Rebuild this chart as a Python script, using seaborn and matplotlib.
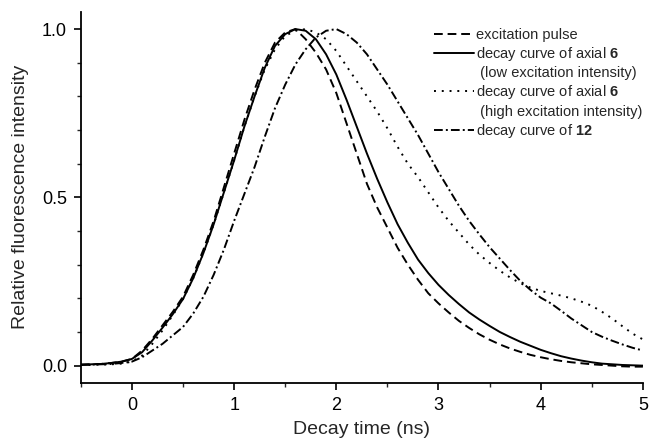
import numpy as np
import pandas as pd
import seaborn as sns
import matplotlib.pyplot as plt
from matplotlib.lines import Line2D
from matplotlib.ticker import MultipleLocator

# decay time axis (ns)
time_ns = [-0.5, -0.4, -0.3, -0.2, -0.1, 0.0, 0.1, 0.2, 0.3, 0.4, 0.5, 0.6, 0.7, 0.8, 0.9,
           1.0, 1.1, 1.2, 1.3, 1.4, 1.5, 1.6, 1.7, 1.8, 1.9, 2.0, 2.1, 2.2, 2.3, 2.4,
           2.5, 2.6, 2.7, 2.8, 2.9, 3.0, 3.1, 3.2, 3.3, 3.4, 3.5, 3.6, 3.7, 3.8, 3.9,
           4.0, 4.1, 4.2, 4.3, 4.4, 4.5, 4.6, 4.7, 4.8, 4.9, 5.0]

excitation = [0.003, 0.004, 0.005, 0.008, 0.012, 0.02, 0.045, 0.08, 0.12, 0.16, 0.205, 0.27, 0.345, 0.43, 0.53,
              0.63, 0.73, 0.82, 0.90, 0.96, 0.99, 1.0, 0.97, 0.93, 0.88, 0.81, 0.72, 0.63, 0.54, 0.47,
              0.41, 0.35, 0.30, 0.255, 0.215, 0.185, 0.158, 0.133, 0.112, 0.093, 0.077, 0.063, 0.051, 0.041, 0.032,
              0.025, 0.019, 0.014, 0.010, 0.007, 0.004, 0.002, 0.0, -0.002, -0.003, -0.003]

axial6_low = [0.003, 0.004, 0.005, 0.008, 0.012, 0.02, 0.04, 0.075, 0.113, 0.153, 0.198, 0.26, 0.335, 0.42, 0.515,
              0.61, 0.71, 0.80, 0.885, 0.95, 0.985, 1.0, 0.995, 0.97, 0.925, 0.865, 0.79, 0.71, 0.63, 0.555,
              0.485, 0.42, 0.365, 0.315, 0.275, 0.24, 0.21, 0.183, 0.158, 0.137, 0.118, 0.10, 0.085, 0.071, 0.059,
              0.047, 0.037, 0.028, 0.021, 0.015, 0.010, 0.006, 0.004, 0.002, 0.001, 0.0]

axial6_high = [0.002, 0.002, 0.003, 0.004, 0.006, 0.012, 0.03, 0.065, 0.105, 0.15, 0.198, 0.26, 0.335, 0.42, 0.515,
               0.61, 0.71, 0.80, 0.88, 0.94, 0.98, 0.995, 1.0, 0.99, 0.97, 0.935, 0.89, 0.845, 0.80, 0.755,
               0.705, 0.65, 0.60, 0.56, 0.515, 0.47, 0.43, 0.395, 0.36, 0.33, 0.305, 0.282, 0.262, 0.245, 0.232,
               0.222, 0.215, 0.208, 0.20, 0.19, 0.178, 0.16, 0.14, 0.117, 0.095, 0.078]

compound12 = [0.002, 0.003, 0.004, 0.005, 0.008, 0.012, 0.025, 0.045, 0.065, 0.09, 0.115, 0.155, 0.205, 0.27, 0.345,
              0.43, 0.51, 0.59, 0.68, 0.765, 0.835, 0.895, 0.94, 0.975, 0.995, 1.0, 0.985, 0.96, 0.925, 0.88,
              0.835, 0.785, 0.735, 0.685, 0.63, 0.575, 0.525, 0.475, 0.43, 0.39, 0.352, 0.318, 0.284, 0.252, 0.225,
              0.202, 0.185, 0.163, 0.14, 0.12, 0.10, 0.086, 0.074, 0.063, 0.053, 0.045]

sns.set_style("ticks")
plt.rcParams['font.family'] = ['Liberation Sans', 'DejaVu Sans']
plt.rcParams['mathtext.fontset'] = 'custom'
plt.rcParams['mathtext.bf'] = 'Liberation Sans:bold'
plt.rcParams['mathtext.rm'] = 'Liberation Sans'

df = pd.DataFrame({'t': time_ns, 'exc': excitation, 'low': axial6_low,
                   'high': axial6_high, 'c12': compound12})

fig = plt.figure(figsize=(6.52, 4.45), dpi=100)
ax = fig.add_axes([0.124, 0.139, 0.862, 0.835])

lw = 1.4
sns.lineplot(data=df, x='t', y='exc', ax=ax, color='black', lw=lw)
ax.lines[-1].set_dashes([4.5, 2.5])
sns.lineplot(data=df, x='t', y='low', ax=ax, color='black', lw=lw)
sns.lineplot(data=df, x='t', y='high', ax=ax, color='black', lw=lw)
ax.lines[-1].set_dashes([1, 3])
sns.lineplot(data=df, x='t', y='c12', ax=ax, color='black', lw=lw)
ax.lines[-1].set_dashes([4.5, 1.6, 1, 1.6])

ax.set_xlim(-0.5, 5.0)
ax.set_ylim(-0.052, 1.052)
ax.set_xticks([0, 1, 2, 3, 4, 5])
ax.set_yticks([0.0, 0.5, 1.0])
ax.set_yticklabels(['0.0', '0.5', '1.0'])
ax.xaxis.set_minor_locator(MultipleLocator(0.5))
ax.yaxis.set_minor_locator(MultipleLocator(0.1))
ax.tick_params(which='major', direction='out', length=5, width=1.2, labelsize=13, colors='black', pad=5)
ax.tick_params(which='minor', direction='out', length=3, width=1.0)
for s in ['left', 'bottom']:
    ax.spines[s].set_linewidth(1.3)
    ax.spines[s].set_color('black')
sns.despine(ax=ax)

ax.set_xlabel('Decay time (ns)', fontsize=14, labelpad=5)
ax.set_ylabel('Relative fluorescence intensity', fontsize=14, labelpad=9)

blank = Line2D([], [], color='none')
handles = [ax.lines[0], ax.lines[1], blank, ax.lines[2], blank, ax.lines[3]]
labels = ['excitation pulse',
          r'decay curve of axial $\mathbf{6}$',
          ' (low excitation intensity)',
          r'decay curve of axial $\mathbf{6}$',
          ' (high excitation intensity)',
          r'decay curve of $\mathbf{12}$']
leg = ax.legend(handles, labels, loc='upper right', bbox_to_anchor=(1.015, 0.98),
                frameon=False, fontsize=10.5, handlelength=2.75, handletextpad=0.15,
                labelspacing=0.22, borderaxespad=0.2)

fig.savefig('out.png', dpi=100)
